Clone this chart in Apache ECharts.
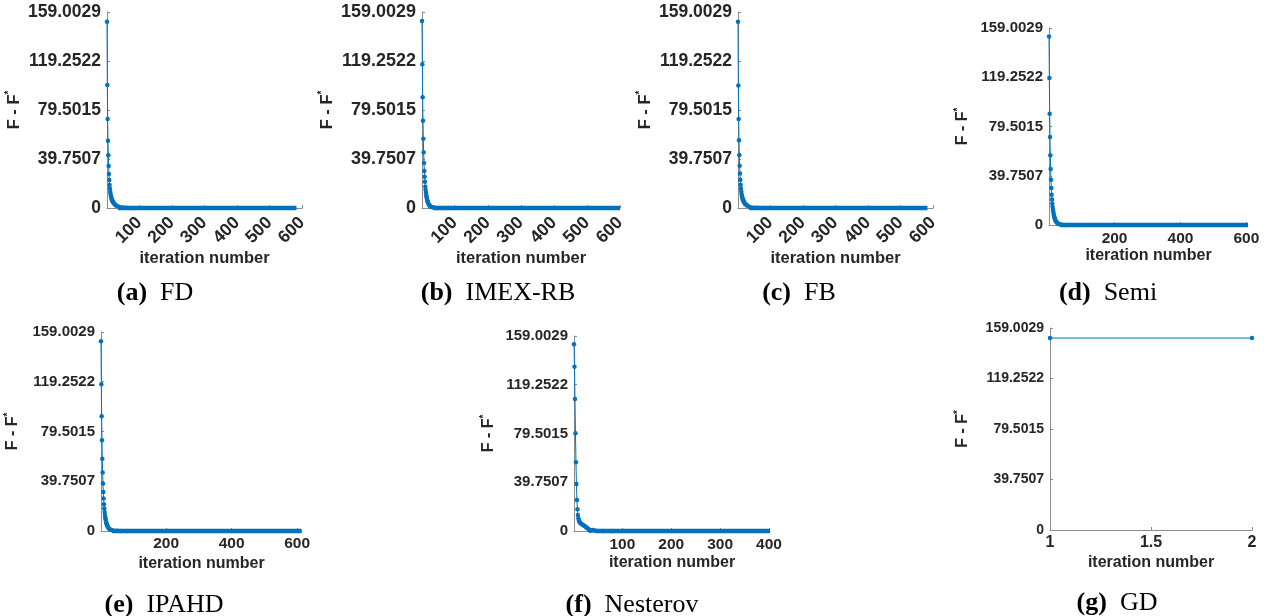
<!DOCTYPE html>
<html>
<head>
<meta charset="utf-8">
<script src="https://cdn.jsdelivr.net/npm/echarts@6/dist/echarts.min.js"></script>
<style>
html,body{margin:0;padding:0;background:#fff}
#main{width:1273px;height:616px}
</style>
</head>
<body>
<div id="main"></div>
<script>
// tick values shared by every panel's y axis
var yTickValues=[0,39.7507,79.5015,119.2522,159.0029];
var yMax=159.0029;

// iterations with a readable point before the curve flattens out
var iterHead=[1,2,3,4,5,6,7,8,9,10,11,12,13,14,15,16,17,18,19,20,22,24,26,28,30,35,40,50,60,80];
var gapFD=[151.1,99.8,72.2,54.6,42.8,34.1,27.6,22.7,18.7,15.7,13.2,11.4,9.9,8.7,7.7,6.9,6.2,5.6,5.1,4.6,3.8,3.2,2.7,2.3,1.9,1.2,0.8,0.35,0.15,0.05];
var gapIMEX=[151.7,116.6,89.8,70.8,56.2,45.2,36.5,30.0,25.4,21.3,17.3,14.6,12.3,10.4,8.8,7.4,6.2,5.2,4.4,3.7,2.6,1.9,1.4,1.0,0.75,0.4,0.22,0.08,0.03,0.01];
var gapFB=[151.1,99.3,72.3,54.9,43.0,34.2,27.9,22.9,18.9,15.8,13.3,11.4,9.9,8.7,7.7,6.9,6.2,5.6,5.0,4.5,3.7,3.1,2.6,2.2,1.8,1.1,0.7,0.3,0.13,0.04];
var gapSemi=[152.2,118.7,89.8,71.0,56.2,45.2,36.6,29.9,24.5,20.5,17.2,14.6,12.4,10.6,9.0,7.7,6.6,5.6,4.8,4.1,3.0,2.2,1.6,1.2,0.9,0.45,0.25,0.09,0.04,0.01];
var gapIPAHD=[151.6,117.2,91.6,72.5,57.8,46.7,37.9,31.2,25.9,21.3,17.9,15.1,12.8,10.9,9.3,7.9,6.8,5.8,5.0,4.3,3.2,2.4,1.8,1.3,1.0,0.5,0.28,0.1,0.04,0.01];

var iterNest=[1,2,3,4,5,6,7,8,9,10,11,12,13,14,16,18,20,22,24,26,28,30,32,34,36,38,40,42,45,50,60,80];
var gapNest=[152.2,134.0,107.6,79.7,56.0,38.3,25.3,17.7,13.0,10.4,8.5,7.6,7.0,6.5,5.8,5.2,4.7,4.2,3.6,3.1,2.5,1.8,1.0,0.3,0.5,0.9,0.8,0.5,0.2,0.1,0.05,0.02];

var iterGD=[1,2];
var gapGD=[151.1,151.1];

// near-zero stretch: first and last iteration of the flat tail (none for GD)
var tailStart=[35,35,35,35,35,45,null];
var tailEnd=[583,600,583,605,614,402,null];

// x axis ranges and ticks
var xMax=[600,600,600,605,615,402,2];
var xTicksLong=[100,200,300,400,500,600];
var xTicksWide=[200,400,600];
var xTicksNest=[100,200,300,400];
var xTicksGD=[1,1.5,2];

var tags=['(a)','(b)','(c)','(d)','(e)','(f)','(g)'];
var names=['FD','IMEX-RB','FB','Semi','IPAHD','Nesterov','GD'];

var heads=[
	[iterHead,gapFD],[iterHead,gapIMEX],[iterHead,gapFB],
	[iterHead,gapSemi],[iterHead,gapIPAHD],[iterNest,gapNest],[iterGD,gapGD]
];
var xTicks=[xTicksLong,xTicksLong,xTicksLong,xTicksWide,xTicksWide,xTicksNest,xTicksGD];

// layout of each subplot (pixels)
var layout=[
	{left:107,top:12,width:195,height:196,yFont:17.5,xFont:17.5,nameFont:16.5,rot:45,xMargin:12,xGap:40,yGap:82,cx:155,cy:293},
	{left:422,top:12,width:198,height:196,yFont:18,xFont:17.5,nameFont:16.5,rot:45,xMargin:12,xGap:40,yGap:79,cx:498,cy:293},
	{left:738,top:12,width:195,height:196,yFont:17.5,xFont:17.5,nameFont:16.5,rot:45,xMargin:12,xGap:40,yGap:80,cx:799,cy:293},
	{left:1049,top:28,width:199,height:197,yFont:15,xFont:15.5,nameFont:16,rot:0,xMargin:6,xGap:23,yGap:76,cx:1108,cy:293},
	{left:101,top:332,width:201,height:199,yFont:15,xFont:15.5,nameFont:16,rot:0,xMargin:5,xGap:25,yGap:78,cx:164,cy:605},
	{left:574,top:336,width:196,height:195,yFont:15,xFont:15.5,nameFont:16,rot:0,xMargin:6,xGap:24,yGap:75,cx:632,cy:605},
	{left:1050,top:328,width:202,height:202,yFont:14,xFont:16,nameFont:16,rot:0,xMargin:5,xGap:25,yGap:77,cx:1117,cy:603}
];

var blue='#0072BD';
var axisGray='#8c8c8c';
var labelColor='#262626';

var grids=[],xAxes=[],yAxes=[],series=[],graphics=[];
for(var i=0;i<7;i++){
	var L=layout[i];
	grids.push({left:L.left,top:L.top,width:L.width,height:L.height,containLabel:false});
	xAxes.push({
		gridIndex:i,type:'value',min:1,max:xMax[i],
		axisLine:{show:true,onZero:false,lineStyle:{color:axisGray,width:1}},
		axisTick:{show:true,inside:true,length:3,customValues:xTicks[i],lineStyle:{color:axisGray}},
		axisLabel:{customValues:xTicks[i],rotate:L.rot,margin:L.xMargin,fontSize:L.xFont,fontWeight:'bold',
			color:labelColor,fontFamily:'Liberation Sans',formatter:function(v){return String(v);}},
		splitLine:{show:false},
		name:'iteration number',nameLocation:'middle',nameGap:L.xGap,
		nameTextStyle:{fontSize:L.nameFont,fontWeight:'bold',color:labelColor,fontFamily:'Liberation Sans'}
	});
	yAxes.push({
		gridIndex:i,type:'value',min:0,max:yMax,
		axisLine:{show:true,lineStyle:{color:axisGray,width:1}},
		axisTick:{show:true,inside:true,length:3,customValues:yTickValues,lineStyle:{color:axisGray}},
		axisLabel:{customValues:yTickValues,margin:6,fontSize:L.yFont,fontWeight:'bold',
			color:labelColor,fontFamily:'Liberation Sans',formatter:function(v){return String(v);}},
		splitLine:{show:false},
		name:'F - F{s|*}',nameLocation:'middle',nameGap:L.yGap,nameRotate:90,
		nameTextStyle:{fontSize:L.nameFont,fontWeight:'bold',color:labelColor,fontFamily:'Liberation Sans',lineHeight:20,
			rich:{s:{fontSize:10,fontWeight:'bold',color:labelColor,fontFamily:'Liberation Sans',verticalAlign:'top',lineHeight:10}}}
	});
	var pts=[];
	for(var k=0;k<heads[i][0].length;k++){
		pts.push([heads[i][0][k],heads[i][1][k]]);
	}
	series.push({
		type:'line',xAxisIndex:i,yAxisIndex:i,data:pts,
		symbol:'circle',symbolSize:4.5,showAllSymbol:true,clip:false,
		lineStyle:{color:blue,width:1},itemStyle:{color:blue},
		emphasis:{disabled:true},animation:false
	});
	if(tailStart[i]!==null){
		series.push({
			type:'line',xAxisIndex:i,yAxisIndex:i,
			data:[[tailStart[i],0],[tailEnd[i],0]],
			symbol:'none',clip:false,
			lineStyle:{color:blue,width:4.5},
			emphasis:{disabled:true},animation:false
		});
	}
	graphics.push({
		type:'text',x:L.cx,y:L.cy,
		style:{
			text:'{b|'+tags[i]+'}{n|'+names[i]+'}',
			align:'center',verticalAlign:'middle',fill:'#000',
			rich:{
				b:{fontFamily:'Liberation Serif',fontWeight:'bold',fontSize:26,fill:'#000',padding:[0,13,0,0]},
				n:{fontFamily:'Liberation Serif',fontSize:26,fill:'#000'}
			}
		}
	});
}

var chart=echarts.init(document.getElementById('main'),null,{renderer:'canvas'});
chart.setOption({
	backgroundColor:'#fff',
	animation:false,
	grid:grids,
	xAxis:xAxes,
	yAxis:yAxes,
	series:series,
	graphic:graphics
});
</script>
</body>
</html>
